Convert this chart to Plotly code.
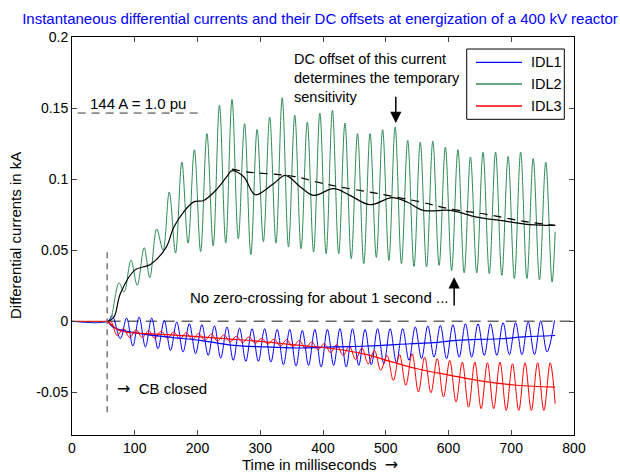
import plotly.graph_objects as go

# ---------------- data ----------------
# IDL1 (blue): time in ms, value in kA  (alternating extrema of the 50 Hz wave)
IDL1_t = [0, 57, 64, 77, 87, 97, 107, 117, 127, 137, 147, 157, 167, 177, 187, 197, 207, 217,
          227, 237, 247, 257, 267, 277, 287, 297, 307, 317, 327, 337, 347, 357, 367, 377,
          387, 397, 407, 417, 427, 437, 447, 457, 467, 477, 487, 497, 507, 517, 527, 537,
          547, 557, 567, 577, 587, 597, 607, 617, 627, 637, 647, 657, 667, 677, 687, 697,
          707, 717, 727, 737, 747, 757, 769]
IDL1_v = [0, 0, 0.004, -0.0123, 0.0023, -0.0174, 0.003, -0.0181, 0.0023, -0.0193, 0.0006,
          -0.0205, -0.0005, -0.0216, -0.0017, -0.0228, -0.0024, -0.024, -0.0033, -0.0259,
          -0.004, -0.0275, -0.0048, -0.0282, -0.0052, -0.0282, -0.0052, -0.0287, -0.0057,
          -0.0306, -0.0057, -0.0315, -0.0064, -0.031, -0.0057, -0.0322, -0.0057, -0.031,
          -0.0052, -0.0322, -0.0052, -0.031, -0.0057, -0.0306, -0.0052, -0.0299, -0.0052,
          -0.0291, -0.0052, -0.0275, -0.004, -0.0263, -0.0033, -0.0252, -0.0029, -0.0263,
          -0.0024, -0.0252, -0.0017, -0.0252, -0.0017, -0.024, -0.0017, -0.024, -0.001,
          -0.0235, -0.001, -0.0235, -0.0005, -0.0235, 0.0002, -0.0216, 0.0006]

# IDL2 (green)
IDL2_t = [0, 57, 61, 75, 83, 94, 104, 115, 124, 135, 145, 155, 165, 175, 185, 195, 205, 215,
          225, 235, 245, 255, 265, 275, 285, 295, 305, 315, 325, 335, 345, 355, 365, 375,
          385, 395, 405, 415, 425, 435, 445, 455, 465, 475, 485, 495, 505, 515, 525, 535,
          545, 555, 565, 575, 585, 595, 605, 615, 625, 635, 645, 655, 665, 675, 685, 695,
          705, 715, 725, 735, 745, 755, 765, 770]
IDL2_v = [0, 0, 0.001, 0.027, 0.0206, 0.043, 0.0253, 0.0518, 0.0307, 0.065, 0.050, 0.091,
          0.048, 0.112, 0.055, 0.1207, 0.049, 0.132, 0.053, 0.152, 0.055, 0.156, 0.058,
          0.139, 0.047, 0.135, 0.056, 0.1437, 0.055, 0.1573, 0.0522, 0.145, 0.051, 0.1402,
          0.0487, 0.1465, 0.0475, 0.1484, 0.0475, 0.1395, 0.044, 0.132, 0.0405, 0.132,
          0.045, 0.1348, 0.0428, 0.1367, 0.0405, 0.1273, 0.0386, 0.1261, 0.0382, 0.1268,
          0.0393, 0.1226, 0.0358, 0.1207, 0.034, 0.1156, 0.034, 0.1191, 0.0335, 0.1191,
          0.0323, 0.116, 0.030, 0.1191, 0.030, 0.1144, 0.0292, 0.112, 0.0276, 0.063]

# IDL3 (red)
IDL3_t = [0, 57, 62, 72, 82, 92, 102, 112, 122, 132, 142, 152, 162, 172, 182, 192, 202, 212,
          222, 232, 242, 252, 262, 272, 282, 292, 302, 312, 322, 332, 342, 352, 362, 372,
          382, 392, 402, 412, 422, 432, 442, 452, 462, 472, 482, 492, 502, 512, 522, 532,
          542, 552, 562, 572, 582, 592, 602, 612, 622, 632, 642, 652, 662, 672, 682, 692,
          702, 712, 722, 732, 742, 752, 762, 770]
IDL3_v = [0, 0, 0.0, -0.010, -0.005, -0.0115, -0.006, -0.0115, -0.0065, -0.012, -0.007,
          -0.012, -0.0075, -0.0125, -0.008, -0.013, -0.0085, -0.0135, -0.009, -0.014,
          -0.0095, -0.0145, -0.0105, -0.015, -0.011, -0.0155, -0.012, -0.016, -0.0125,
          -0.0175, -0.013, -0.018, -0.0135, -0.019, -0.0145, -0.020, -0.0158, -0.022,
          -0.0165, -0.024, -0.0174, -0.027, -0.0188, -0.0299, -0.0205, -0.0345, -0.024,
          -0.0416, -0.0235, -0.045, -0.0228, -0.0498, -0.0252, -0.0503, -0.0263, -0.0533,
          -0.0275, -0.0568, -0.0287, -0.0604, -0.0287, -0.0615, -0.0292, -0.0615, -0.0287,
          -0.0627, -0.0299, -0.0627, -0.0292, -0.0627, -0.0292, -0.0627, -0.0292, -0.058]

# DC offsets
DC1_t = [57, 65, 94, 151, 204, 258, 311, 364, 417, 470, 539, 576, 613, 682, 720, 770]
DC1_v = [0, -0.004, -0.0076, -0.011, -0.0134, -0.017, -0.018, -0.0188, -0.018, -0.0174,
         -0.0158, -0.015, -0.0134, -0.0123, -0.011, -0.010]
DC2_t = [58, 67, 77, 100, 125, 150, 162, 178, 194, 210, 231, 247, 255, 274, 292, 321, 340,
         364, 385, 417, 443, 475, 510, 534, 560, 603, 645, 682, 730, 770]
DC2_v = [0, 0.003, 0.0194, 0.036, 0.040, 0.052, 0.066, 0.077, 0.084, 0.085, 0.093, 0.102,
         0.106, 0.1015, 0.089, 0.0968, 0.1027, 0.0945, 0.0886, 0.0933, 0.0886, 0.082, 0.087,
         0.0839, 0.078, 0.078, 0.0733, 0.071, 0.068, 0.0675]
DC2b_t = [255, 280, 353, 390, 427, 486, 555, 603, 650, 725, 770]
DC2b_v = [0.107, 0.105, 0.102, 0.098, 0.0945, 0.09, 0.084, 0.079, 0.076, 0.070, 0.0675]
DC3_t = [57, 70, 80, 94, 151, 204, 258, 311, 364, 417, 470, 507, 550, 603, 656, 709, 770]
DC3_v = [0, -0.005, -0.007, -0.008, -0.0094, -0.011, -0.0127, -0.0146, -0.017, -0.0193,
         -0.0235, -0.0282, -0.0334, -0.038, -0.0423, -0.045, -0.0463]

x_ticks = [0, 100, 200, 300, 400, 500, 600, 700, 800]
y_ticks = [-0.05, 0, 0.05, 0.1, 0.15, 0.2]
y_tick_labels = ["-0.05", "0", "0.05", "0.1", "0.15", "0.2"]
series_names = ["IDL1", "IDL2", "IDL3"]

BLUE = "#0000ff"
GREEN = "#2e8b57"
RED = "#ff0000"
COLORS = [BLUE, GREEN, RED]
FONT = "Liberation Sans, Arial, Helvetica, sans-serif"
ARROW = '<span style="font-family:DejaVu Sans;font-size:16px">\u2192</span>'

fig = go.Figure()
for name, tt, vv, col in zip(series_names, [IDL1_t, IDL2_t, IDL3_t],
                             [IDL1_v, IDL2_v, IDL3_v], COLORS):
    fig.add_trace(go.Scatter(x=tt, y=vv, mode="lines", name=name, showlegend=False,
                             line=dict(color=col, width=1, shape="spline")))
fig.add_trace(go.Scatter(x=DC1_t, y=DC1_v, mode="lines", showlegend=False,
                         line=dict(color=BLUE, width=1.2, shape="spline")))
fig.add_trace(go.Scatter(x=DC2b_t, y=DC2b_v, mode="lines", showlegend=False,
                         line=dict(color="black", width=1.2, dash="8px,6px", shape="spline")))
fig.add_trace(go.Scatter(x=DC2_t, y=DC2_v, mode="lines", showlegend=False,
                         line=dict(color="black", width=1.2, shape="spline")))
fig.add_trace(go.Scatter(x=DC3_t, y=DC3_v, mode="lines", showlegend=False,
                         line=dict(color=RED, width=1.2, shape="spline")))

shapes = [
    dict(type="line", xref="x", yref="y", x0=60, x1=800, y0=0, y1=0,
         line=dict(color="#666666", width=1.5, dash="11px,7px"), layer="below"),
    dict(type="line", xref="x", yref="y", x0=56, x1=56, y0=-0.064, y1=0.05,
         line=dict(color="#555555", width=1.2, dash="6px,5px")),
    dict(type="line", xref="x", yref="y", x0=9, x1=210, y0=0.1465, y1=0.1465,
         line=dict(color="#333333", width=1, dash="8px,6px")),
    # legend box
    dict(type="rect", xref="paper", yref="paper", x0=0.7863, x1=0.9807, y0=0.7932,
         y1=0.9698, line=dict(color="black", width=1), fillcolor="white", layer="above"),
]

annotations = [
    dict(x=25, y=0.1535, xref="x", yref="y", text="144 A = 1.0 pu", showarrow=False,
         xanchor="left", yanchor="middle", font=dict(size=15, color="black", family=FONT)),
    dict(x=350, y=0.171, xref="x", yref="y",
         text="DC offset of this current<br>determines the temporary<br>sensitivity",
         showarrow=False, xanchor="left", yanchor="middle", align="left",
         font=dict(size=14.5, color="black", family=FONT)),
    dict(x=516, y=0.1395, ax=516, ay=0.159, xref="x", yref="y", axref="x", ayref="y",
         text="", showarrow=True, arrowhead=2, arrowsize=1.5, arrowwidth=1.5,
         arrowcolor="black"),
    dict(x=185, y=0.017, xref="x", yref="y", text="No zero-crossing for about 1 second ...",
         showarrow=False, xanchor="left", yanchor="middle",
         font=dict(size=15, color="black", family=FONT)),
    dict(x=609, y=0.031, ax=609, ay=0.010, xref="x", yref="y", axref="x", ayref="y",
         text="", showarrow=True, arrowhead=2, arrowsize=1.5, arrowwidth=1.5,
         arrowcolor="black"),
    dict(x=69, y=-0.0474, xref="x", yref="y", text=ARROW + "  CB closed", showarrow=False,
         xanchor="left", yanchor="middle", font=dict(size=15, color="black", family=FONT)),
    # axis titles
    dict(x=0.494, y=-0.074, xref="paper", yref="paper", text="Time in milliseconds  " + ARROW,
         showarrow=False, xanchor="center", yanchor="middle",
         font=dict(size=15, color="black", family=FONT)),
    dict(x=-0.1135, y=0.5, xref="paper", yref="paper", text="Differential currents in kA",
         showarrow=False, xanchor="center", yanchor="middle", textangle=-90,
         font=dict(size=15, color="black", family=FONT)),
]

# legend entries (line sample + label), drawn inside the legend box
legend_rows = [0.9364, 0.8819, 0.8266]
for name, col, yy in zip(series_names, COLORS, legend_rows):
    shapes.append(dict(type="line", xref="paper", yref="paper", x0=0.8048, x1=0.8964,
                       y0=yy, y1=yy, line=dict(color=col, width=1.3), layer="above"))
    annotations.append(dict(x=0.9104, y=yy, xref="paper", yref="paper", text=name,
                            showarrow=False, xanchor="left", yanchor="middle",
                            font=dict(size=14.5, color="black", family=FONT)))

fig.update_layout(
    width=620, height=475,
    margin=dict(l=72, r=46, t=37, b=40, autoexpand=False),
    paper_bgcolor="white", plot_bgcolor="white",
    font=dict(family=FONT, size=14, color="black"),
    title=dict(text="Instantaneous differential currents and their DC offsets at energization of a 400 kV reactor",
               x=0.494, xref="paper", xanchor="center", y=1 - 19 / 475, yref="container",
               yanchor="middle", font=dict(size=15, color=BLUE, family=FONT)),
    shapes=shapes,
    annotations=annotations,
    showlegend=False,
)
fig.update_xaxes(range=[0, 800], tickvals=x_ticks, ticks="inside", ticklen=5,
                 showline=True, linecolor="black", linewidth=1, mirror="ticks",
                 showgrid=False, zeroline=False, automargin=False,
                 tickfont=dict(size=14, family=FONT))
fig.update_yaxes(range=[-0.08, 0.2], tickvals=y_ticks, ticktext=y_tick_labels,
                 ticks="inside", ticklen=5, showline=True, linecolor="black", linewidth=1,
                 mirror="ticks", showgrid=False, zeroline=False, automargin=False,
                 tickfont=dict(size=14, family=FONT))

fig.write_html("out.html", config={"displayModeBar": False},
               post_script="document.body.style.margin='0px';document.body.style.overflow='hidden';")
